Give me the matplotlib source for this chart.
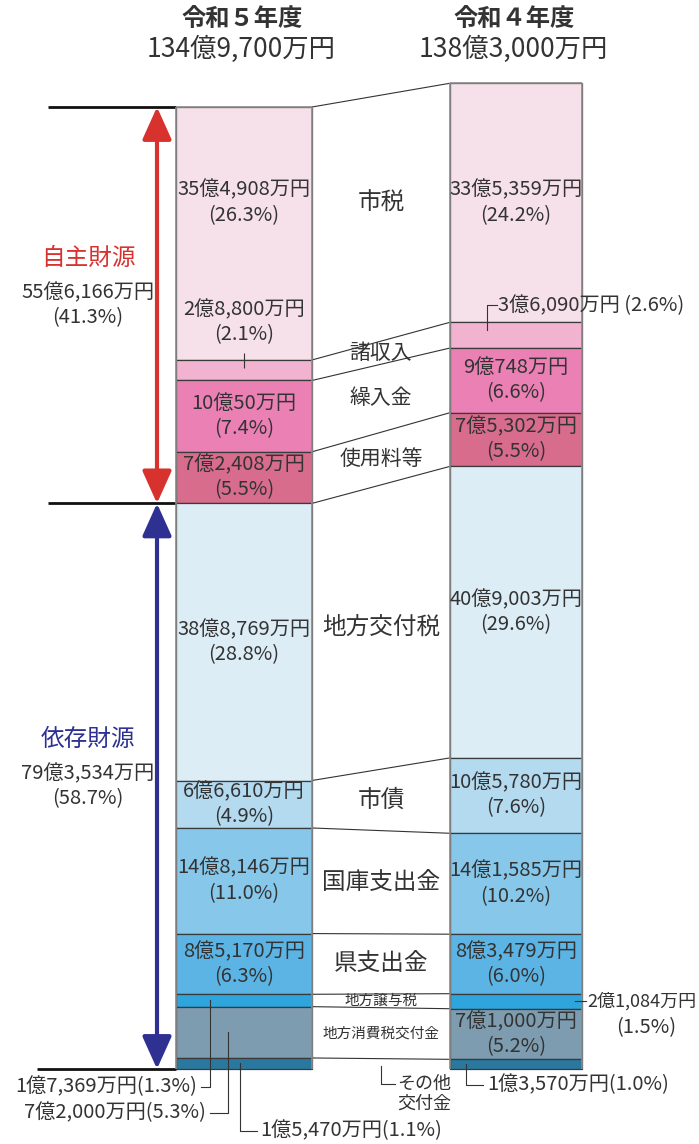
import matplotlib.pyplot as plt
import numpy as np

plt.rcParams['font.family'] = ['Noto Sans CJK JP', 'DejaVu Sans']

# --- data (万円) ---
years = ['令和５年度', '令和４年度']
categories = ['市税', '諸収入', '繰入金', '使用料等', '地方交付税', '市債',
              '国庫支出金', '県支出金', '地方譲与税', '地方消費税交付金', 'その他交付金']
amount_r5 = [354908, 28800, 100050, 72408, 388769, 66610, 148146, 85170, 17369, 72000, 15470]
amount_r4 = [335359, 36090, 90748, 75302, 409003, 105780, 141585, 83479, 21084, 71000, 13570]
pct_r5 = [26.3, 2.1, 7.4, 5.5, 28.8, 4.9, 11.0, 6.3, 1.3, 5.3, 1.1]
pct_r4 = [24.2, 2.6, 6.6, 5.5, 29.6, 7.6, 10.2, 6.0, 1.5, 5.2, 1.0]
groups = ['自主財源', '依存財源']
group_count = [4, 7]

colors = ['#f6e1ea', '#f2b3d1', '#ea80b4', '#d86c8d', '#dcedf6', '#b4daf0',
          '#86c7ea', '#5cb4e5', '#2ea5dc', '#7e9cb0', '#2b789e']
group_colors = ['#d7322e', '#2e3192']
TXT = '#333333'
FS = 14.5


def yen(v):
    oku, man = divmod(v, 10000)
    return f'{oku}億{man:,}万円'


# layout: y axis is in 万円, BASE px is the bar bottom in the 1144px tall picture
BASE = 1069
UNIT = 1403.0  # 万円 per pixel


def Y(p):
    return (BASE - p) * UNIT


def D(p):
    return p * UNIT


fig = plt.figure(figsize=(6.99, 11.44), dpi=100)
ax = fig.add_axes([0, 0, 1, 1])
ax.set_xlim(0, 699)
ax.set_ylim(Y(1144), Y(0))
ax.axis('off')

bars = [(244, 136, amount_r5), (516, 132, amount_r4)]
tops, centers = [], []
for xc, w, vals in bars:
    vals = np.array(vals)
    total = vals.sum()
    top = total - np.concatenate([[0], np.cumsum(vals)[:-1]])
    bottom = top - vals
    ax.bar(xc, vals, bottom=bottom, width=w, color=colors, edgecolor='#3a3a3a', linewidth=0.9, zorder=2)
    ax.vlines([xc - w / 2, xc + w / 2], 0, total, color='#8c8c8c', linewidth=1.2, zorder=3)
    ax.hlines(total, xc - w / 2, xc + w / 2, color='#8c8c8c', linewidth=1.2, zorder=3)
    tops.append(top)
    centers.append((top + bottom) / 2)
    # header
    ax.text(xc - 2, Y(19), years[len(tops) - 1], ha='center', va='center', fontsize=17.5,
            fontweight='bold', color=TXT)
    ax.text(xc - 3, Y(49), yen(int(total)), ha='center', va='center', fontsize=19, color=TXT)

(x5, w5, _), (x4, w4, _) = bars
# connection lines between the two bars
for t5, t4 in zip(tops[0], tops[1]):
    ax.plot([x5 + w5 / 2, x4 - w4 / 2], [t5, t4], color='#333333', linewidth=0.8, zorder=1)


def two_line(x, y, a, b, fs=FS):
    ax.text(x, y + D(12.5), a, ha='center', va='center', fontsize=fs, color=TXT, zorder=4)
    ax.text(x, y - D(12.5), b, ha='center', va='center', fontsize=fs, color=TXT, zorder=4)


# labels inside bars
label_y5 = centers[0].copy()
label_y5[0] = centers[1][0]
for i in [0, 2, 3, 4, 5, 6, 7]:
    two_line(x5, label_y5[i], yen(amount_r5[i]), f'({pct_r5[i]}%)')
for i in [0, 2, 3, 4, 5, 6, 7, 9]:
    two_line(x4, centers[1][i], yen(amount_r4[i]), f'({pct_r4[i]}%)')

# 諸収入 (left) label placed above the thin segment
two_line(x5, tops[0][1] + D(38), yen(amount_r5[1]), f'({pct_r5[1]}%)')
ax.vlines(x5, tops[0][1] - D(8), tops[0][1] + D(7), color=TXT, linewidth=0.8, zorder=4)

# 諸収入 (right) label outside top right
yr = tops[1][1]
ax.plot([487, 487, 497], [yr - D(8), yr + D(17), yr + D(17)], color=TXT, linewidth=0.8, zorder=4)
ax.text(498, yr + D(17), f'{yen(amount_r4[1])} ({pct_r4[1]}%)', ha='left', va='center',
        fontsize=FS, color=TXT)

# 地方譲与税 (right)
yr = centers[1][8]
ax.plot([575, 586], [yr, yr], color=TXT, linewidth=0.8, zorder=4)
ax.text(587, yr, yen(amount_r4[8]), ha='left', va='center', fontsize=13, color=TXT)
ax.text(646, yr - D(26), f'({pct_r4[8]}%)', ha='center', va='center', fontsize=FS, color=TXT)

# bottom left callouts (R5)
yb = Y(1087)
ax.plot([210, 210, 201], [centers[0][8], yb, yb], color=TXT, linewidth=0.8)
ax.text(197, yb, f'{yen(amount_r5[8])}({pct_r5[8]}%)', ha='right', va='center', fontsize=FS, color=TXT)
yb = Y(1113)
ax.plot([228, 228, 210], [centers[0][9], yb, yb], color=TXT, linewidth=0.8)
ax.text(206, yb, f'{yen(amount_r5[9])}({pct_r5[9]}%)', ha='right', va='center', fontsize=FS, color=TXT)
yb = Y(1131)
ax.plot([240, 240, 257], [centers[0][10], yb, yb], color=TXT, linewidth=0.8)
ax.text(260, yb, f'{yen(amount_r5[10])}({pct_r5[10]}%)', ha='left', va='center', fontsize=FS, color=TXT)

# bottom right callout (R4)
yb = Y(1085)
ax.plot([466, 466, 483], [centers[1][10], yb, yb], color=TXT, linewidth=0.8)
ax.text(487, yb, f'{yen(amount_r4[10])}({pct_r4[10]}%)', ha='left', va='center', fontsize=FS, color=TXT)

# middle category labels
xm = (x5 + w5 / 2 + x4 - w4 / 2) / 2
mid_y = (centers[0] + centers[1]) / 2
mid_y[0] = centers[1][0]
mid_fs = [17, 15, 15, 15, 17, 17, 17, 17, 10.5, 10.5]
for i, fs in enumerate(mid_fs):
    ax.text(xm, mid_y[i], categories[i], ha='center', va='center', fontsize=fs, color=TXT, zorder=4)
yb = Y(1084)
ax.plot([xm, xm, xm + 14], [Y(1066), yb, yb], color=TXT, linewidth=0.8)
ax.text(xm + 16, yb, 'その他', ha='left', va='center', fontsize=13, color=TXT)
ax.text(xm + 16, Y(1104), '交付金', ha='left', va='center', fontsize=13, color=TXT)

# group arrows & labels
xa = 157
total5 = sum(amount_r5)
gtop = total5
start = 0
for g, n, col in zip(groups, group_count, group_colors):
    vals = amount_r5[start:start + n]
    gsum = sum(vals)
    gpct = round(sum(pct_r5[start:start + n]), 1)
    gbot = gtop - gsum
    ax.annotate('', xy=(xa, gbot), xytext=(xa, gtop),
                arrowprops=dict(arrowstyle='<|-|>,head_length=1.0,head_width=0.45',
                                mutation_scale=20, color=col, lw=3, shrinkA=0, shrinkB=0),
                zorder=3)
    gc = (gtop + gbot) / 2 + D(17)
    ax.text(88, gc + D(30), g, ha='center', va='center', fontsize=17, color=col)
    ax.text(88, gc - D(5), yen(gsum), ha='center', va='center', fontsize=FS, color=TXT)
    ax.text(88, gc - D(29), f'({gpct}%)', ha='center', va='center', fontsize=FS, color=TXT)
    gtop = gbot
    start += n

# black reference lines at the group boundaries
ax.hlines([total5, total5 - sum(amount_r5[:4])], 48, x5 - w5 / 2, color='#111111', linewidth=2, zorder=2)
ax.hlines(0, 37, x5 - w5 / 2, color='#111111', linewidth=2, zorder=2)

fig.savefig('out.png', dpi=100)
